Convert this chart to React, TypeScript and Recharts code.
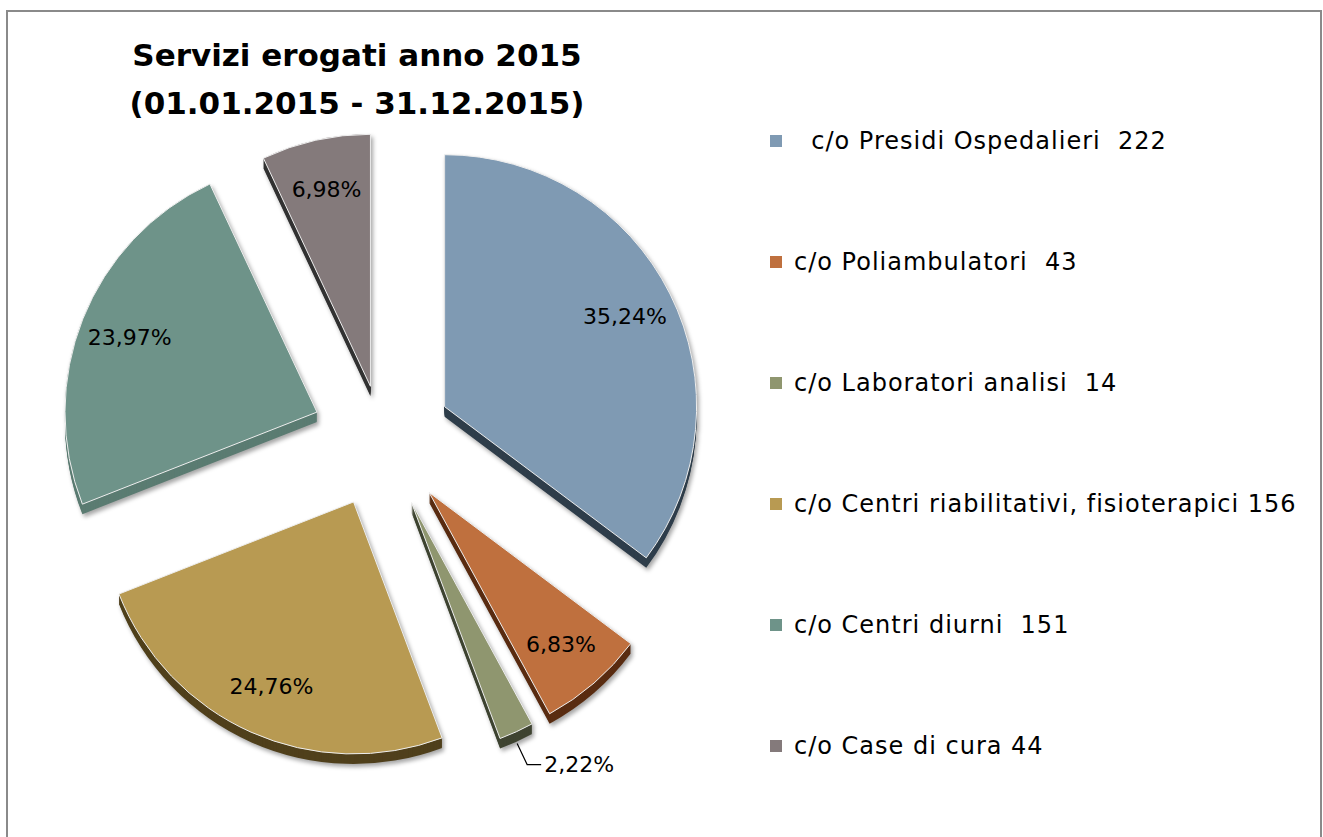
import React from 'react';
import { PieChart, Pie, Cell, Legend, Sector } from 'recharts';

const categories = [
  'c/o Presidi Ospedalieri',
  'c/o Poliambulatori',
  'c/o Laboratori analisi',
  'c/o Centri riabilitativi, fisioterapici',
  'c/o Centri diurni',
  'c/o Case di cura',
];
const services = [222, 43, 14, 156, 151, 44];
// spacing between name and number as it appears in the legend
const legendGaps = ['  ', '  ', '  ', ' ', '  ', ' '];

const topColors = ['#7f9ab3', '#bf703e', '#8f966f', '#b89a52', '#6e9389', '#847a7b'];
const sideColors = ['#2f3e4b', '#5a2d12', '#3f4431', '#50401c', '#5b7c72', '#323232'];
// how far each slice is pulled out of the pie
const pull = [70, 72, 71, 70, 70, 53];

const data = categories.map((name, i) => ({ name, value: services[i] }));

const DEPTH = 10;
const RAD = Math.PI / 180;
const FONT = '"DejaVu Sans", sans-serif';

const offsetOf = (props: any) => {
  const idx = categories.indexOf(props.name ?? props.payload?.name);
  const m = props.midAngle;
  return {
    idx,
    dx: pull[idx] * Math.cos(-m * RAD),
    dy: pull[idx] * Math.sin(-m * RAD),
  };
};

const SlabSector = (props: any) => {
  const { cx, cy, outerRadius, startAngle, endAngle } = props;
  const { idx, dx, dy } = offsetOf(props);
  const layers = [];
  for (let k = DEPTH; k >= 1; k--) {
    layers.push(
      <Sector
        key={k}
        cx={cx + dx}
        cy={cy + dy + k}
        innerRadius={0}
        outerRadius={outerRadius}
        startAngle={startAngle}
        endAngle={endAngle}
        fill={sideColors[idx]}
        stroke="none"
      />
    );
  }
  return (
    <g style={{ filter: 'drop-shadow(2px 3px 2px rgba(0,0,0,0.35))' }}>
      {layers}
      <Sector
        cx={cx + dx}
        cy={cy + dy}
        innerRadius={0}
        outerRadius={outerRadius}
        startAngle={startAngle}
        endAngle={endAngle}
        fill={topColors[idx]}
        stroke="#eeeeee"
        strokeWidth={1}
      />
    </g>
  );
};

const renderLabel = (props: any) => {
  const { cx, cy, midAngle, outerRadius, percent } = props;
  const { dx, dy } = offsetOf(props);
  const text = (percent * 100).toFixed(2).replace('.', ',') + '%';
  const cos = Math.cos(-midAngle * RAD);
  const sin = Math.sin(-midAngle * RAD);
  if (percent < 0.03) {
    const sx = cx + dx + (outerRadius + 2) * cos;
    const sy = cy + dy + (outerRadius + 2) * sin + DEPTH;
    const mx = sx + 10;
    const my = sy + 21;
    return (
      <g>
        <polyline points={`${sx},${sy} ${mx},${my} ${mx + 14},${my}`} fill="none" stroke="#000" strokeWidth={1.2} />
        <text x={mx + 17} y={my} dominantBaseline="central" fontFamily={FONT} fontSize={22} fill="#000">
          {text}
        </text>
      </g>
    );
  }
  const r = outerRadius * 0.8;
  return (
    <text
      x={cx + dx + r * cos}
      y={cy + dy + r * sin}
      textAnchor="middle"
      dominantBaseline="central"
      fontFamily={FONT}
      fontSize={22}
      fill="#000"
    >
      {text}
    </text>
  );
};

const renderLegend = (props: any) => {
  const items = [...(props.payload || [])].sort(
    (a: any, b: any) => categories.indexOf(a.value) - categories.indexOf(b.value)
  );
  return (
    <div style={{ fontFamily: FONT, fontSize: 24, letterSpacing: 1, color: '#000' }}>
      {items.map((entry: any, i: number) => {
        const idx = categories.indexOf(entry.value);
        return (
          <div key={i} style={{ display: 'flex', alignItems: 'center', height: 121, whiteSpace: 'pre' }}>
            <span style={{ width: 12, height: 12, background: topColors[idx], display: 'inline-block', marginRight: 12 }} />
            <span>{(idx === 0 ? '  ' : '') + categories[idx] + legendGaps[idx] + services[idx]}</span>
          </div>
        );
      })}
    </div>
  );
};

export default function App() {
  return (
    <div style={{ position: 'absolute', left: 0, top: 0, width: 1323, height: 837, overflow: 'hidden', background: '#fff' }}>
      <div
        style={{
          position: 'absolute',
          left: 6,
          top: 10,
          width: 1312,
          height: 900,
          border: '2px solid #8a8a8a',
        }}
      />
      <div
        style={{
          position: 'absolute',
          left: 57,
          top: 31,
          width: 600,
          textAlign: 'center',
          fontFamily: FONT,
          fontWeight: 'bold',
          fontSize: 31,
          lineHeight: '48px',
          color: '#000',
        }}
      >
        <div>Servizi erogati anno 2015</div>
        <div>(01.01.2015 - 31.12.2015)</div>
      </div>
      <div style={{ position: 'absolute', left: 0, top: 0 }}>
        <PieChart width={1323} height={837} margin={{ top: 0, right: 0, bottom: 0, left: 0 }}>
          <Pie
            data={data}
            dataKey="value"
            nameKey="name"
            cx={382}
            cy={438}
            outerRadius={252}
            startAngle={90}
            endAngle={-270}
            stroke="none"
            shape={SlabSector}
            label={renderLabel}
            labelLine={false}
            isAnimationActive={false}
          >
            {data.map((entry, i) => (
              <Cell key={`cell-${i}`} fill={topColors[i]} />
            ))}
          </Pie>
          <Legend
            layout="vertical"
            verticalAlign="top"
            align="right"
            content={renderLegend}
            wrapperStyle={{ position: 'absolute', left: 770, top: 80, width: 550 }}
          />
        </PieChart>
      </div>
    </div>
  );
}
